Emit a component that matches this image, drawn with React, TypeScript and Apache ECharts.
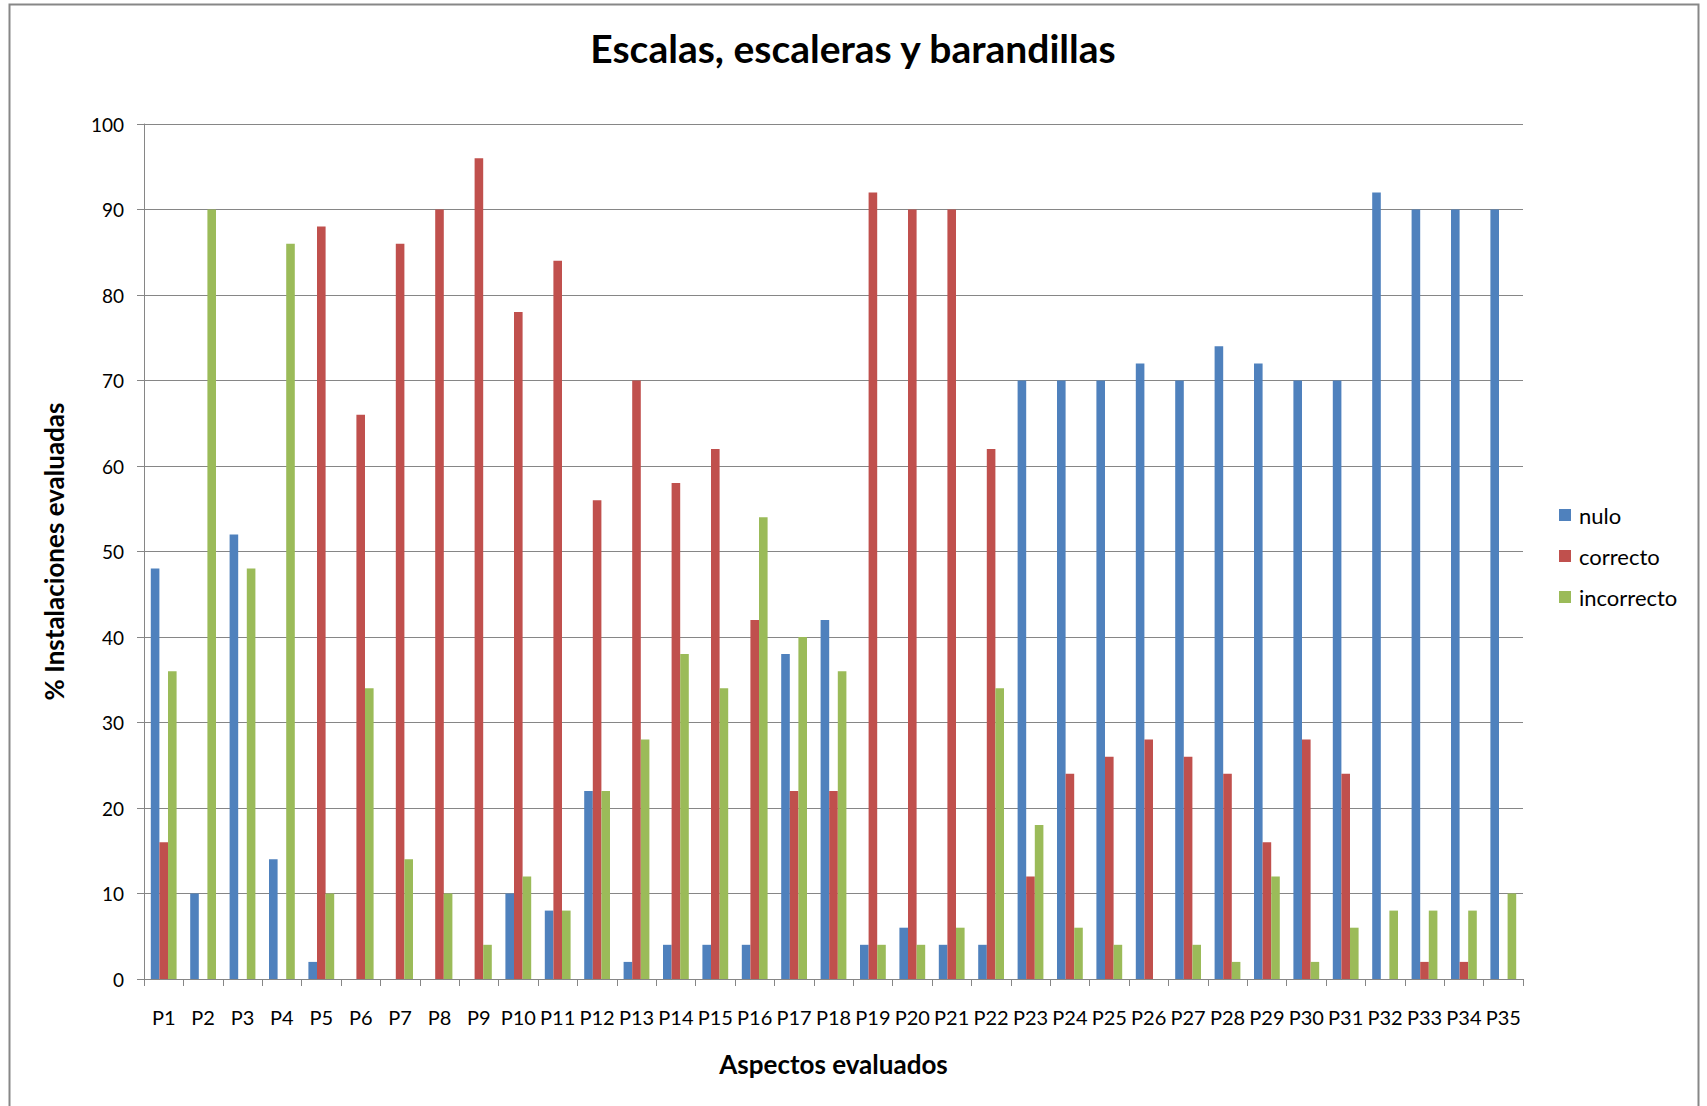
import React, { useEffect, useRef } from "react";
import * as echarts from "echarts";

const categories = [
  "P1","P2","P3","P4","P5","P6","P7","P8","P9","P10",
  "P11","P12","P13","P14","P15","P16","P17","P18","P19","P20",
  "P21","P22","P23","P24","P25","P26","P27","P28","P29","P30",
  "P31","P32","P33","P34","P35",
];

const nulo = [
  48, 10, 52, 14, 2, 0, 0, 0, 0, 10,
  8, 22, 2, 4, 4, 4, 38, 42, 4, 6,
  4, 4, 70, 70, 70, 72, 70, 74, 72, 70,
  70, 92, 90, 90, 90,
];

const correcto = [
  16, 0, 0, 0, 88, 66, 86, 90, 96, 78,
  84, 56, 70, 58, 62, 42, 22, 22, 92, 90,
  90, 62, 12, 24, 26, 28, 26, 24, 16, 28,
  24, 0, 2, 2, 0,
];

const incorrecto = [
  36, 90, 48, 86, 10, 34, 14, 10, 4, 12,
  8, 22, 28, 38, 34, 54, 40, 36, 4, 4,
  6, 34, 18, 6, 4, 0, 4, 2, 12, 2,
  6, 8, 8, 8, 10,
];

const seriesNames = ["nulo", "correcto", "incorrecto"];
const seriesColors = ["#4F81BD", "#C0504D", "#9BBB59"];

export default function App() {
  const ref = useRef<HTMLDivElement>(null);

  useEffect(() => {
    document.body.style.margin = "0";
    if (!ref.current) return;
    const chart = echarts.init(ref.current, null, { renderer: "svg" });
    const font = "Lato, 'Open Sans', sans-serif";
    const dataSets = [nulo, correcto, incorrecto];
    chart.setOption({
      animation: false,
      backgroundColor: "#ffffff",
      textStyle: { fontFamily: font, color: "#000" },
      title: {
        text: "Escalas, escaleras y barandillas",
        left: 848,
        top: 23,
        textAlign: "center",
        textStyle: { fontFamily: font, fontWeight: "bold", fontSize: 39, color: "#000" },
      },
      graphic: [
        {
          type: "rect",
          shape: { x: 9.5, y: 4.5, width: 1689, height: 1120 },
          style: { fill: "none", stroke: "#878787", lineWidth: 2 },
          silent: true,
          z: -1,
        },
      ],
      legend: {
        orient: "vertical",
        left: 1559,
        top: 504,
        padding: 0,
        itemWidth: 12,
        itemHeight: 12,
        itemGap: 19,
        icon: "rect",
        data: seriesNames,
        textStyle: { fontFamily: font, fontSize: 22, color: "#000", lineHeight: 22, padding: [0, 0, 0, 3] },
      },
      grid: { left: 144, top: 124, width: 1379, height: 855, containLabel: false },
      xAxis: {
        type: "category",
        data: categories,
        name: "Aspectos evaluados",
        nameLocation: "middle",
        nameGap: 72,
        nameTextStyle: { fontFamily: font, fontWeight: "bold", fontSize: 26, color: "#000" },
        axisLine: { lineStyle: { color: "#868686", width: 1 } },
        axisTick: { show: true, length: 7, lineStyle: { color: "#868686" } },
        axisLabel: { interval: 0, margin: 28, fontFamily: font, fontSize: 20, color: "#000" },
        splitLine: { show: false },
      },
      yAxis: {
        type: "value",
        min: 0,
        max: 100,
        interval: 10,
        name: "% Instalaciones evaluadas",
        nameLocation: "middle",
        nameGap: 77,
        nameRotate: 90,
        nameTextStyle: { fontFamily: font, fontWeight: "bold", fontSize: 26, color: "#000" },
        axisLine: { show: true, lineStyle: { color: "#868686", width: 1 } },
        axisTick: { show: true, length: 7, lineStyle: { color: "#868686" } },
        axisLabel: { margin: 20, fontFamily: font, fontSize: 19, color: "#000" },
        splitLine: { show: true, lineStyle: { color: "#868686", width: 1 } },
      },
      series: seriesNames.map((name, i) => ({
        name,
        type: "bar",
        data: dataSets[i],
        barWidth: 8.6,
        barGap: "0%",
        itemStyle: { color: seriesColors[i] },
      })),
    });
    return () => chart.dispose();
  }, []);

  return <div ref={ref} style={{ width: 1707, height: 1106 }} />;
}
